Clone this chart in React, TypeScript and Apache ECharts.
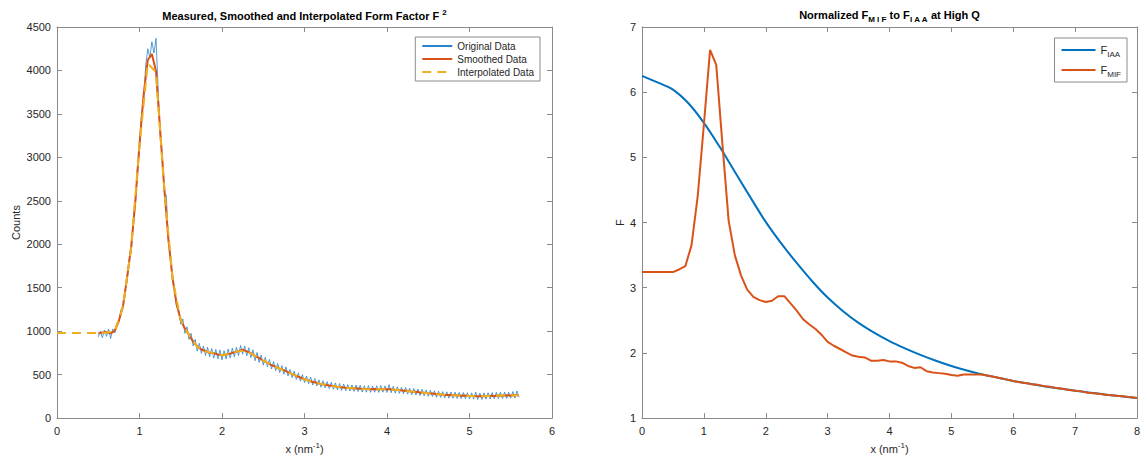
import React, { useEffect, useRef } from "react";
import * as echarts from "echarts";

// ---------- Left chart data ----------
const ORIG_X0 = 0.5;
const ORIG_STEP = 0.025;
const originalCounts = [
  935, 998, 925, 1013, 940, 1025, 915, 1025, 980, 1090,
  1105, 1250, 1260, 1470, 1590, 1830, 1910, 2280, 2450, 2890,
  3090, 3500, 3630, 4060, 4250, 4150, 4330, 4200, 4370, 3800,
  3260, 3020, 2600, 2560, 2030, 1860, 1580, 1480, 1280, 1240,
  1080, 1140, 975, 1050, 905, 975, 830, 905, 770, 860,
  745, 830, 720, 815, 705, 800, 690, 790, 680, 785,
  670, 775, 680, 795, 690, 805, 705, 815, 720, 835,
  735, 830, 715, 810, 695, 785, 660, 755, 640, 725,
  610, 700, 590, 675, 565, 650, 545, 630, 525, 605,
  505, 590, 485, 560, 465, 540, 445, 520, 425, 500,
  410, 485, 395, 470, 380, 455, 370, 440, 355, 430,
  348, 420, 340, 412, 332, 405, 325, 398, 320, 392,
  315, 385, 312, 382, 308, 380, 305, 378, 300, 372,
  298, 375, 296, 370, 298, 372, 295, 375, 298, 370,
  295, 385, 292, 365, 288, 360, 284, 355, 280, 352,
  276, 345, 268, 340, 265, 335, 260, 330, 255, 325,
  250, 320, 248, 315, 240, 310, 238, 305, 232, 302,
  230, 300, 228, 298, 226, 296, 224, 294, 222, 292,
  220, 290, 218, 300, 215, 288, 214, 290, 218, 292,
  220, 294, 222, 296, 224, 298, 225, 300, 226, 298,
  228, 305, 230, 312, 240,
];

const SMOOTH_X0 = 0.5;
const SMOOTH_STEP = 0.05;
const smoothedCounts = [
  975, 985, 990, 975, 1005, 1120, 1290, 1620, 1980, 2500,
  3150, 3720, 4120, 4190, 3990, 3320, 2650, 2060, 1620, 1310,
  1130, 1030, 960, 880, 825, 790, 772, 752, 748, 732,
  722, 733, 742, 758, 770, 788, 768, 748, 714, 692,
  658, 638, 608, 592, 568, 552, 528, 506, 484, 467,
  446, 433, 416, 406, 391, 384, 374, 369, 359, 356,
  349, 347, 341, 341, 335, 336, 332, 334, 330, 335,
  331, 332, 324, 322, 316, 314, 304, 302, 295, 293,
  286, 284, 275, 273, 267, 266, 262, 263, 258, 259,
  255, 255, 250, 252, 252, 256, 255, 260, 258, 262,
  260, 264, 262,
];

const INTERP_X0 = 0;
const INTERP_STEP = 0.1;
const interpolatedCounts = [
  980, 980, 980, 980, 980, 978, 985, 1000, 1280, 1970,
  3140, 4080, 3980, 2640, 1610, 1125, 955, 820, 770, 745,
  725, 742, 770, 772, 715, 660, 610, 568, 528, 485,
  447, 417, 392, 375, 360, 350, 342, 336, 333, 332,
  331, 325, 317, 305, 296, 287, 276, 268, 263, 259,
  255, 251, 253, 256, 259, 261, 263,
];

// ---------- Right chart data ----------
const IAA_X0 = 0;
const IAA_STEP = 0.25;
const fIAA = [
  6.25, 6.15, 6.04, 5.83, 5.53, 5.17, 4.78, 4.39, 4.01, 3.68,
  3.38, 3.1, 2.85, 2.64, 2.46, 2.31, 2.18, 2.07, 1.97, 1.88,
  1.8, 1.73, 1.67, 1.62, 1.57, 1.53, 1.49, 1.455, 1.42, 1.39,
  1.36, 1.335, 1.31,
];

const MIF_X0 = 0;
const MIF_STEP = 0.1;
const fMIF = [
  3.24, 3.24, 3.24, 3.24, 3.24, 3.24, 3.28, 3.33, 3.65, 4.4,
  5.5, 6.65, 6.42, 5.2, 4.03, 3.5, 3.19, 2.97, 2.86, 2.81,
  2.78, 2.8, 2.87, 2.87, 2.76, 2.65, 2.52, 2.44, 2.37, 2.28,
  2.17, 2.11, 2.06, 2.01, 1.96, 1.94, 1.93, 1.88, 1.88, 1.89,
  1.87, 1.87, 1.85, 1.8, 1.77, 1.78, 1.72, 1.7, 1.69, 1.68,
  1.66, 1.65, 1.67, 1.67, 1.67, 1.67, 1.65, 1.63, 1.61, 1.59,
  1.57, 1.55, 1.54, 1.52, 1.51, 1.49, 1.48, 1.46, 1.45, 1.43,
  1.42, 1.41, 1.39, 1.38, 1.37, 1.36, 1.35, 1.34, 1.33, 1.32,
  1.31,
];

const legendLeftNames = ["Original Data", "Smoothed Data", "Interpolated Data"];
const legendRightNames = ["F_IAA", "F_MIF"];

const toPairs = (x0: number, step: number, vals: number[]) =>
  vals.map((v, i) => [Number((x0 + i * step).toFixed(4)), v]);

const FONT = '"Liberation Sans", Helvetica, Arial, sans-serif';
const AXIS_COLOR = "#8a8a8a";
const LABEL_COLOR = "#262626";
const BLUE = "#0072BD";
const RED = "#D95319";
const YELLOW = "#EDB120";

const supRich = {
  sup: { fontSize: 8, lineHeight: 8, verticalAlign: "top", color: LABEL_COLOR, fontFamily: FONT },
};

function xAxes(gridIndex: number, max: number) {
  return [
    {
      type: "value",
      gridIndex,
      min: 0,
      max,
      interval: 1,
      position: "bottom",
      axisLine: { show: true, onZero: false, lineStyle: { color: AXIS_COLOR } },
      axisTick: { show: true, inside: true, length: 5, lineStyle: { color: AXIS_COLOR } },
      axisLabel: { color: LABEL_COLOR, fontSize: 11, margin: 7, fontFamily: FONT },
      splitLine: { show: false },
      name: "x (nm{sup|-1})",
      nameLocation: "middle",
      nameGap: 22,
      nameTextStyle: { color: LABEL_COLOR, fontSize: 11, lineHeight: 16, fontFamily: FONT, rich: supRich },
    },
    {
      type: "value",
      gridIndex,
      min: 0,
      max,
      interval: 1,
      position: "top",
      axisLine: { show: true, onZero: false, lineStyle: { color: AXIS_COLOR } },
      axisTick: { show: true, inside: true, length: 5, lineStyle: { color: AXIS_COLOR } },
      axisLabel: { show: false },
      splitLine: { show: false },
    },
  ];
}

function yAxes(gridIndex: number, min: number, max: number, interval: number, name: string, nameGap: number) {
  return [
    {
      type: "value",
      gridIndex,
      min,
      max,
      interval,
      position: "left",
      axisLine: { show: true, onZero: false, lineStyle: { color: AXIS_COLOR } },
      axisTick: { show: true, inside: true, length: 5, lineStyle: { color: AXIS_COLOR } },
      axisLabel: {
        color: LABEL_COLOR,
        fontSize: 11,
        margin: 6,
        fontFamily: FONT,
        formatter: (v: number) => String(v),
      },
      splitLine: { show: false },
      name,
      nameLocation: "middle",
      nameGap,
      nameTextStyle: { color: LABEL_COLOR, fontSize: 11, fontFamily: FONT },
    },
    {
      type: "value",
      gridIndex,
      min,
      max,
      interval,
      position: "right",
      axisLine: { show: true, onZero: false, lineStyle: { color: AXIS_COLOR } },
      axisTick: { show: true, inside: true, length: 5, lineStyle: { color: AXIS_COLOR } },
      axisLabel: { show: false },
      splitLine: { show: false },
    },
  ];
}

const subRich = {
  sub: { fontSize: 8, lineHeight: 8, verticalAlign: "bottom", color: LABEL_COLOR, fontFamily: FONT },
};

const option: any = {
  animation: false,
  backgroundColor: "#ffffff",
  textStyle: { fontFamily: FONT },
  grid: [
    { left: 57, right: 593, top: 27, bottom: 40 },
    { left: 642, right: 8, top: 27, bottom: 40 },
  ],
  xAxis: [...xAxes(0, 6), ...xAxes(1, 8)],
  yAxis: [...yAxes(0, 0, 4500, 500, "Counts", 36), ...yAxes(1, 1, 7, 1, "F", 14)],
  graphic: [
    {
      type: "text",
      x: 304.5,
      y: 16,
      style: {
        text: "Measured, Smoothed and Interpolated Form Factor F {sup|2}",
        align: "center",
        verticalAlign: "middle",
        fontSize: 11,
        fontWeight: "bold",
        fontFamily: FONT,
        lineHeight: 16,
        fill: "#000",
        rich: { sup: { fontSize: 8, lineHeight: 8, fontWeight: "bold", verticalAlign: "top", fontFamily: FONT, fill: "#000" } },
      },
    },
    {
      type: "text",
      x: 889.5,
      y: 15,
      style: {
        text: "Normalized F{sub|M I F} to F{sub|I A A} at High Q",
        align: "center",
        verticalAlign: "middle",
        fontSize: 11,
        fontWeight: "bold",
        fontFamily: FONT,
        lineHeight: 17,
        fill: "#000",
        rich: { sub: { fontSize: 8, lineHeight: 8, fontWeight: "bold", verticalAlign: "bottom", fontFamily: FONT, fill: "#000" } },
      },
    },
  ],
  legend: [
    {
      data: legendLeftNames,
      orient: "vertical",
      right: 605,
      top: 37,
      itemWidth: 30,
      itemHeight: 10,
      itemGap: 3,
      padding: [4, 6, 4, 6],
      borderColor: "#8a8a8a",
      borderWidth: 1,
      backgroundColor: "#fff",
      itemStyle: { opacity: 0 },
      textStyle: { fontSize: 10, color: LABEL_COLOR, fontFamily: FONT },
    },
    {
      data: legendRightNames,
      orient: "vertical",
      right: 18,
      top: 38,
      itemWidth: 34,
      itemHeight: 10,
      itemGap: 4,
      padding: [4, 6, 4, 6],
      borderColor: "#8a8a8a",
      borderWidth: 1,
      backgroundColor: "#fff",
      itemStyle: { opacity: 0 },
      formatter: (n: string) => (n === "F_IAA" ? "F{sub|IAA}" : "F{sub|MIF}"),
      textStyle: { fontSize: 11, color: LABEL_COLOR, fontFamily: FONT, lineHeight: 16, rich: subRich },
    },
  ],
  series: [
    {
      name: "Original Data",
      type: "line",
      xAxisIndex: 0,
      yAxisIndex: 0,
      symbol: "none",
      data: toPairs(ORIG_X0, ORIG_STEP, originalCounts),
      lineStyle: { color: "#2c84cc", width: 0.8 },
      itemStyle: { color: "#2c84cc" },
      z: 2,
    },
    {
      name: "Smoothed Data",
      type: "line",
      xAxisIndex: 0,
      yAxisIndex: 0,
      symbol: "none",
      data: toPairs(SMOOTH_X0, SMOOTH_STEP, smoothedCounts),
      lineStyle: { color: RED, width: 2 },
      itemStyle: { color: RED },
      z: 3,
    },
    {
      name: "Interpolated Data",
      type: "line",
      xAxisIndex: 0,
      yAxisIndex: 0,
      symbol: "none",
      data: toPairs(INTERP_X0, INTERP_STEP, interpolatedCounts),
      lineStyle: { color: YELLOW, width: 2, type: [9, 6] },
      itemStyle: { color: YELLOW },
      z: 4,
    },
    {
      name: "F_IAA",
      type: "line",
      xAxisIndex: 2,
      yAxisIndex: 2,
      symbol: "none",
      smooth: 0.35,
      data: toPairs(IAA_X0, IAA_STEP, fIAA),
      lineStyle: { color: BLUE, width: 2 },
      itemStyle: { color: BLUE },
      z: 2,
    },
    {
      name: "F_MIF",
      type: "line",
      xAxisIndex: 2,
      yAxisIndex: 2,
      symbol: "none",
      data: toPairs(MIF_X0, MIF_STEP, fMIF),
      lineStyle: { color: RED, width: 2 },
      itemStyle: { color: RED },
      z: 3,
    },
  ],
};

export default function App() {
  const ref = useRef<HTMLDivElement>(null);
  useEffect(() => {
    const chart = echarts.init(ref.current as HTMLDivElement, null, { renderer: "svg" });
    chart.setOption(option);
    return () => chart.dispose();
  }, []);
  return (
    <div
      ref={ref}
      style={{ position: "fixed", left: 0, top: 0, width: 1145, height: 462, background: "#fff" }}
    />
  );
}
